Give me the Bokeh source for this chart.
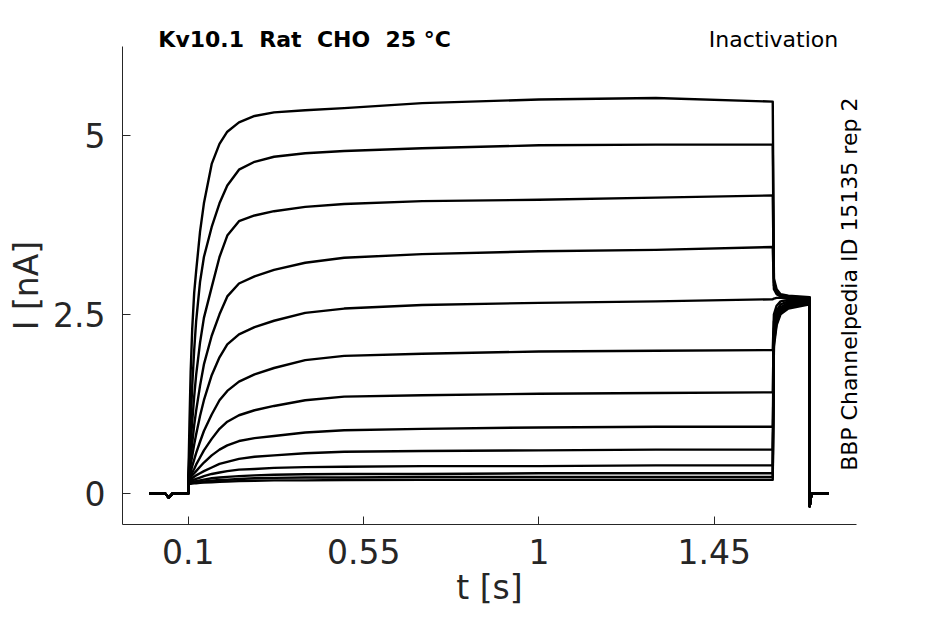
from bokeh.plotting import figure
from bokeh.models import ColumnDataSource, Label, Range1d, FixedTicker
from bokeh.embed import file_html
from bokeh.resources import INLINE

# ---- data ----
pre_t = [0.0, 0.04, 0.05, 0.06, 0.1]
pre_i = [0.0, 0.0, -0.06, 0.0, 0.0]

step_t = [0.1, 0.103, 0.106, 0.11, 0.115, 0.12, 0.13, 0.14, 0.16, 0.18,
          0.2, 0.23, 0.27, 0.32, 0.4, 0.5, 0.7, 1.0, 1.3, 1.6]
step_i = [
    [0.20, 1.00, 1.70, 2.30, 2.80, 3.10, 3.65, 4.05, 4.60, 4.88, 5.05, 5.18, 5.27, 5.32, 5.35, 5.38, 5.45, 5.50, 5.52, 5.47],
    [0.20, 0.60, 1.00, 1.50, 2.00, 2.40, 2.95, 3.30, 3.72, 4.05, 4.30, 4.52, 4.63, 4.70, 4.75, 4.78, 4.82, 4.86, 4.87, 4.87],
    [0.20, 0.45, 0.70, 1.00, 1.35, 1.65, 2.10, 2.45, 2.88, 3.30, 3.60, 3.80, 3.88, 3.94, 4.00, 4.04, 4.08, 4.10, 4.13, 4.16],
    [0.20, 0.35, 0.50, 0.70, 0.95, 1.15, 1.50, 1.80, 2.20, 2.50, 2.75, 2.93, 3.03, 3.12, 3.22, 3.29, 3.34, 3.38, 3.40, 3.44],
    [0.20, 0.30, 0.40, 0.52, 0.68, 0.82, 1.08, 1.30, 1.65, 1.90, 2.08, 2.22, 2.32, 2.41, 2.52, 2.58, 2.63, 2.66, 2.68, 2.71],
    [0.20, 0.25, 0.30, 0.38, 0.47, 0.56, 0.72, 0.87, 1.10, 1.30, 1.43, 1.56, 1.66, 1.75, 1.86, 1.92, 1.95, 1.98, 1.99, 2.00],
    [0.18, 0.21, 0.24, 0.29, 0.34, 0.40, 0.50, 0.60, 0.76, 0.90, 1.00, 1.09, 1.16, 1.22, 1.30, 1.35, 1.37, 1.39, 1.40, 1.41],
    [0.18, 0.20, 0.22, 0.25, 0.28, 0.31, 0.37, 0.43, 0.53, 0.61, 0.67, 0.73, 0.77, 0.80, 0.85, 0.88, 0.90, 0.92, 0.93, 0.93],
    [0.17, 0.18, 0.19, 0.21, 0.23, 0.25, 0.28, 0.31, 0.36, 0.41, 0.44, 0.48, 0.51, 0.53, 0.56, 0.58, 0.59, 0.60, 0.61, 0.61],
    [0.16, 0.165, 0.17, 0.18, 0.19, 0.20, 0.22, 0.24, 0.27, 0.29, 0.31, 0.33, 0.34, 0.355, 0.365, 0.37, 0.38, 0.38, 0.39, 0.39],
    [0.15, 0.153, 0.156, 0.16, 0.165, 0.17, 0.18, 0.19, 0.21, 0.22, 0.23, 0.24, 0.25, 0.26, 0.265, 0.27, 0.27, 0.28, 0.28, 0.28],
    [0.14, 0.142, 0.144, 0.147, 0.15, 0.153, 0.16, 0.165, 0.175, 0.185, 0.19, 0.20, 0.21, 0.215, 0.22, 0.22, 0.23, 0.23, 0.23, 0.23],
    [0.13, 0.132, 0.134, 0.136, 0.138, 0.14, 0.145, 0.15, 0.155, 0.16, 0.165, 0.17, 0.175, 0.18, 0.18, 0.185, 0.19, 0.19, 0.19, 0.19],
]

tail_t = [1.603, 1.61, 1.62, 1.64, 1.695]
tail_i = [
    [3.00, 2.85, 2.78, 2.76, 2.74],
    [2.95, 2.82, 2.77, 2.75, 2.73],
    [2.90, 2.80, 2.76, 2.74, 2.72],
    [2.85, 2.78, 2.75, 2.73, 2.72],
    [2.72, 2.73, 2.73, 2.72, 2.71],
    [2.50, 2.62, 2.68, 2.70, 2.70],
    [2.40, 2.55, 2.64, 2.68, 2.69],
    [2.30, 2.50, 2.60, 2.66, 2.68],
    [2.25, 2.45, 2.57, 2.64, 2.67],
    [2.20, 2.42, 2.55, 2.62, 2.66],
    [2.15, 2.40, 2.53, 2.60, 2.65],
    [2.10, 2.38, 2.52, 2.60, 2.65],
    [2.05, 2.35, 2.50, 2.58, 2.64],
]

post_t = [1.695, 1.6965, 1.700, 1.743]
post_i = [-0.18, -0.10, 0.0, 0.0]

x_ticks = [0.1, 0.55, 1.0, 1.45]
x_tick_labels = {0.1: "0.1", 0.55: "0.55", 1.0: "1", 1.45: "1.45"}
y_ticks = [0, 2.5, 5]
y_tick_labels = {0: "0", 2.5: "2.5", 5: "5"}

NB = "\u00a0"
title_text = "Kv10.1" + NB * 2 + "Rat" + NB * 2 + "CHO" + NB * 2 + "25" + NB + "°C"
protocol_text = "Inactivation"
side_text = "BBP Channelpedia ID 15135 rep 2"

# ---- build traces ----
xs, ys = [], []
for s, tl in zip(step_i, tail_i):
    xs.append(pre_t + step_t + tail_t + post_t)
    ys.append(pre_i + s + tl + post_i)
src = ColumnDataSource(dict(xs=xs, ys=ys))

FONT = "DejaVu Sans"
AX = "#262626"

X0, X1 = -0.069, 1.815
Y0, Y1 = -0.433, 6.24
TEXT_Y = 6.338

p = figure(width=929, height=608, output_backend="svg", toolbar_location=None,
           x_range=Range1d(-0.3821, 1.9279), y_range=Range1d(-1.609, 6.757),
           min_border_left=0, min_border_right=29, min_border_top=9, min_border_bottom=0)
p.outline_line_color = None
p.xgrid.visible = False
p.ygrid.visible = False
p.background_fill_color = "white"
p.border_fill_color = "white"

p.multi_line(xs="xs", ys="ys", source=src, line_color="black", line_width=2.4,
             line_join="round")

for ax in (p.xaxis[0], p.yaxis[0]):
    ax.axis_line_color = AX
    ax.axis_line_width = 1
    ax.major_tick_line_color = AX
    ax.major_tick_in = 8
    ax.major_tick_out = 0
    ax.minor_tick_line_color = None
    ax.major_label_text_font = FONT
    ax.major_label_text_font_size = "33px"
    ax.major_label_text_color = AX
    ax.axis_label_text_font = FONT
    ax.axis_label_text_font_size = "33px"
    ax.axis_label_text_font_style = "normal"
    ax.axis_label_text_color = AX

p.xaxis.fixed_location = Y0
p.yaxis.fixed_location = X0
p.xaxis.bounds = (X0, X1)
p.yaxis.bounds = (Y0, Y1)
p.xaxis.ticker = FixedTicker(ticks=x_ticks)
p.xaxis.major_label_overrides = x_tick_labels
p.yaxis.ticker = FixedTicker(ticks=y_ticks)
p.yaxis.major_label_overrides = y_tick_labels
p.xaxis.axis_label = "t [s]"
p.yaxis.axis_label = "I [nA]"
p.xaxis.major_label_standoff = 15
p.yaxis.major_label_standoff = 17
p.xaxis.axis_label_standoff = 0
p.yaxis.axis_label_standoff = 4

p.add_layout(Label(x=0.023, y=TEXT_Y, text=title_text, text_font=FONT,
                   text_font_size="22px", text_font_style="bold",
                   text_color="black", text_baseline="alphabetic", text_align="left"))
p.add_layout(Label(x=1.768, y=TEXT_Y, text=protocol_text, text_font=FONT,
                   text_font_size="22px", text_color="black",
                   text_baseline="alphabetic", text_align="right"))
p.add_layout(Label(x=1.797, y=2.92, text=side_text, text_font=FONT,
                   text_font_size="22px", text_color="black", angle=1.5708,
                   text_baseline="middle", text_align="center"))

open("out.html", "w").write(file_html(p, INLINE))
